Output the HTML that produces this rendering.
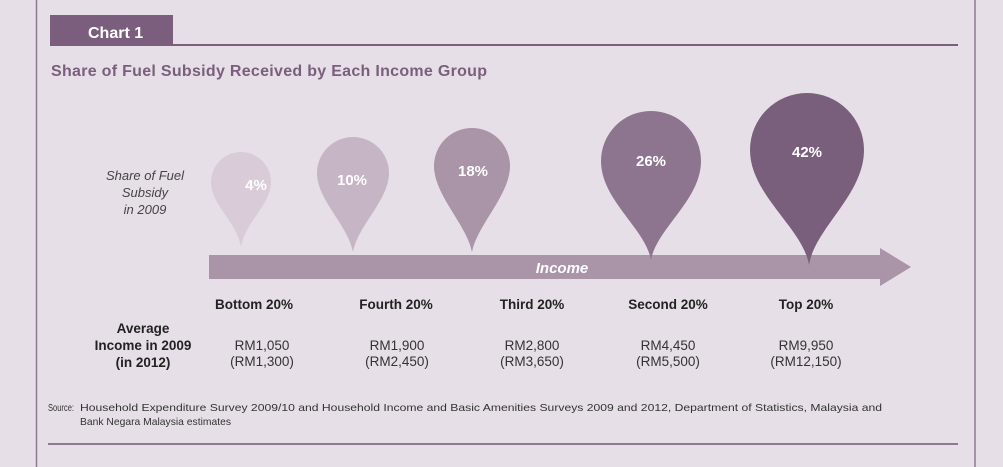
<!DOCTYPE html>
<html><head><meta charset="utf-8"><style>
html,body{margin:0;padding:0;background:#e6dfe7;}
svg{display:block;font-family:"Liberation Sans",sans-serif;}
</style></head><body>
<svg width="1003" height="467" viewBox="0 0 1003 467">
<rect width="1003" height="467" fill="#e6dfe7"/>
<line x1="36.5" y1="0" x2="36.5" y2="467" stroke="#8e7a90" stroke-width="1.5"/>
<line x1="975" y1="0" x2="975" y2="467" stroke="#8e7a90" stroke-width="1.5"/>
<rect x="50" y="15" width="123" height="30" fill="#7b5e7d"/>
<line x1="50" y1="45" x2="958" y2="45" stroke="#7b5e7d" stroke-width="2"/>
<text x="88" y="38" fill="#fff" font-size="16" font-weight="bold">Chart 1</text>
<text x="51" y="76" fill="#7b5e7d" font-size="16" font-weight="bold" textLength="436">Share of Fuel Subsidy Received by Each Income Group</text>
<g font-style="italic" font-size="13" fill="#444" text-anchor="middle">
<text x="145" y="180">Share of Fuel</text><text x="145" y="197">Subsidy</text><text x="145" y="214">in 2009</text></g>
<path d="M209 255 H880 V248 L911 267 L880 286 V279 H209 Z" fill="#a994a8"/>
<text x="562" y="273" fill="#fff" font-size="15" font-weight="bold" font-style="italic" text-anchor="middle">Income</text>
<g>
<path d="M211 182 A30 30 0 1 1 271 182 C271 205 245 222 241 247 C237 222 211 205 211 182Z" fill="#d9ccd8"/>
<path d="M317 173 A36 36 0 1 1 389 173 C389 200 358 225 353 252 C348 225 317 200 317 173Z" fill="#c6b5c5"/>
<path d="M434 166 A38 38 0 1 1 510 166 C510 195 477 225 472 252 C467 225 434 195 434 166Z" fill="#a994a8"/>
<path d="M601 161 A50 50 0 1 1 701 161 C701 200 657 228 651 260 C645 228 601 200 601 161Z" fill="#8d7590"/>
<path d="M750 150 A57 57 0 1 1 864 150 C864 195 815 228 809 265 C803 228 750 195 750 150Z" fill="#7a5f7c"/>
</g>
<g fill="#fff" font-size="15" font-weight="bold" text-anchor="middle">
<text x="256" y="190">4%</text><text x="352" y="185">10%</text><text x="473" y="176">18%</text><text x="651" y="166">26%</text><text x="807" y="157">42%</text></g>
<g fill="#222" font-size="13.5" font-weight="bold" text-anchor="middle">
<text x="254" y="309">Bottom 20%</text><text x="396" y="309">Fourth 20%</text><text x="532" y="309">Third 20%</text><text x="668" y="309">Second 20%</text><text x="806" y="309">Top 20%</text>
<text x="143" y="333">Average</text><text x="143" y="350">Income in 2009</text><text x="143" y="367">(in 2012)</text></g>
<g fill="#333" font-size="13.5" text-anchor="middle">
<text x="262" y="350">RM1,050</text><text x="262" y="366">(RM1,300)</text>
<text x="397" y="350">RM1,900</text><text x="397" y="366">(RM2,450)</text>
<text x="532" y="350">RM2,800</text><text x="532" y="366">(RM3,650)</text>
<text x="668" y="350">RM4,450</text><text x="668" y="366">(RM5,500)</text>
<text x="806" y="350">RM9,950</text><text x="806" y="366">(RM12,150)</text></g>
<g fill="#333" font-size="10.5">
<text x="48" y="411" textLength="26" lengthAdjust="spacingAndGlyphs">Source:</text>
<text x="80" y="411" textLength="802" lengthAdjust="spacingAndGlyphs">Household Expenditure Survey 2009/10 and Household Income and Basic Amenities Surveys 2009 and 2012, Department of Statistics, Malaysia and</text>
<text x="80" y="425" textLength="151" lengthAdjust="spacingAndGlyphs">Bank Negara Malaysia estimates</text></g>
<line x1="48" y1="444" x2="958" y2="444" stroke="#8e7a90" stroke-width="2"/>
</svg>
</body></html>
